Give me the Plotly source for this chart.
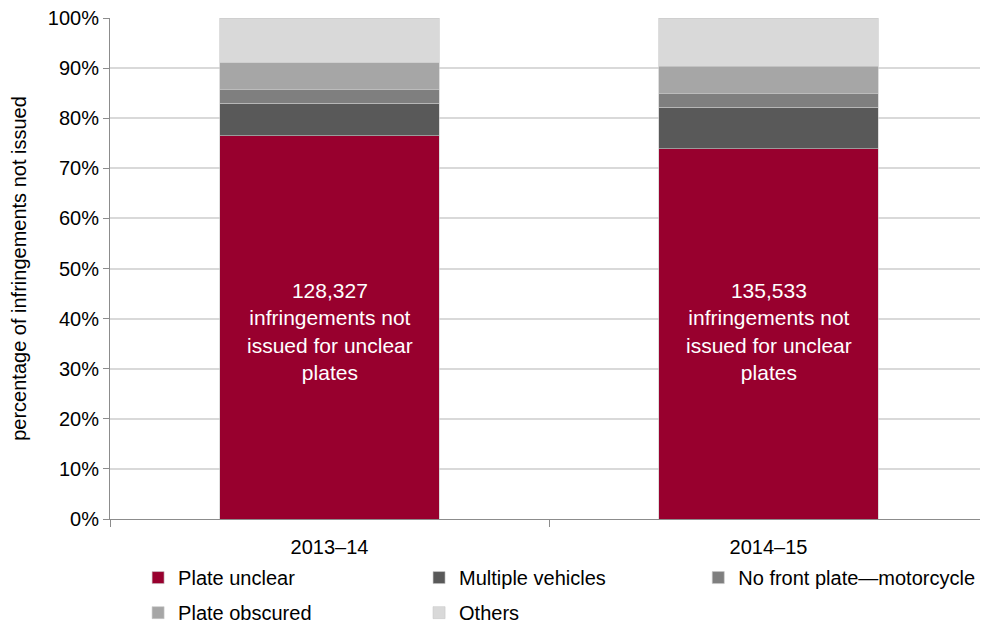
import plotly.graph_objects as go

years = ["2013–14", "2014–15"]
plate_unclear = [76.5, 73.9]
multiple_vehicles = [6.5, 8.3]
no_front_plate = [2.8, 2.8]
plate_obscured = [5.3, 5.4]
others = [8.9, 9.6]
totals = ["128,327", "135,533"]
label_y = [37.5, 37.5]

# (name, values, colour, legend id, legend x, legend y)
series = [
    ("Plate unclear", plate_unclear, "#98002E", "legend", 0.032, -0.078),
    ("Multiple vehicles", multiple_vehicles, "#595959", "legend2", 0.352, -0.078),
    ("No front plate—motorcycle", no_front_plate, "#7F7F7F", "legend3", 0.670, -0.078),
    ("Plate obscured", plate_obscured, "#A6A6A6", "legend4", 0.032, -0.148),
    ("Others", others, "#D9D9D9", "legend5", 0.352, -0.148),
]

font = "Liberation Sans, Arial, sans-serif"

fig = go.Figure()
legends = {}
for name, vals, color, leg, lx, ly in series:
    fig.add_trace(go.Bar(
        x=years, y=vals, name=name, legend=leg,
        marker=dict(color=color, line=dict(color="#C8C8C8", width=0.6)),
        width=0.5,
    ))
    legends[leg] = dict(
        x=lx, y=ly, xanchor="left", yanchor="top", orientation="h",
        font=dict(family=font, size=20), itemwidth=30,
        bgcolor="rgba(0,0,0,0)",
    )

for yr, tot, ly in zip(years, totals, label_y):
    fig.add_annotation(
        x=yr, y=ly, showarrow=False,
        text=f"{tot}<br>infringements not<br>issued for unclear<br>plates",
        font=dict(family=font, size=21, color="white"),
        align="center",
    )

# page body adds an 8px offset, so margins are shifted to compensate
fig.update_layout(
    barmode="stack",
    width=988, height=627,
    margin=dict(l=102, r=8, t=10, b=116, autoexpand=False),
    plot_bgcolor="white", paper_bgcolor="white",
    font=dict(family=font, size=20, color="black"),
    showlegend=True,
    **legends,
)
fig.update_xaxes(
    showline=True, linecolor="#8C8C8C", linewidth=1,
    ticks="outside", tickson="boundaries", ticklen=7, tickcolor="#8C8C8C",
    tickfont=dict(size=20), ticklabelstandoff=10,
)
fig.update_yaxes(
    range=[0, 100], dtick=10, ticksuffix="%",
    showline=True, linecolor="#8C8C8C", linewidth=1,
    ticks="outside", ticklen=6, tickcolor="#8C8C8C",
    showgrid=True, gridcolor="#D9D9D9", gridwidth=1.5,
    tickfont=dict(size=20), ticklabeloverflow="allow",
    title=dict(text="percentage of infringements not issued", font=dict(size=20), standoff=24),
)

fig.write_html("out.html")
